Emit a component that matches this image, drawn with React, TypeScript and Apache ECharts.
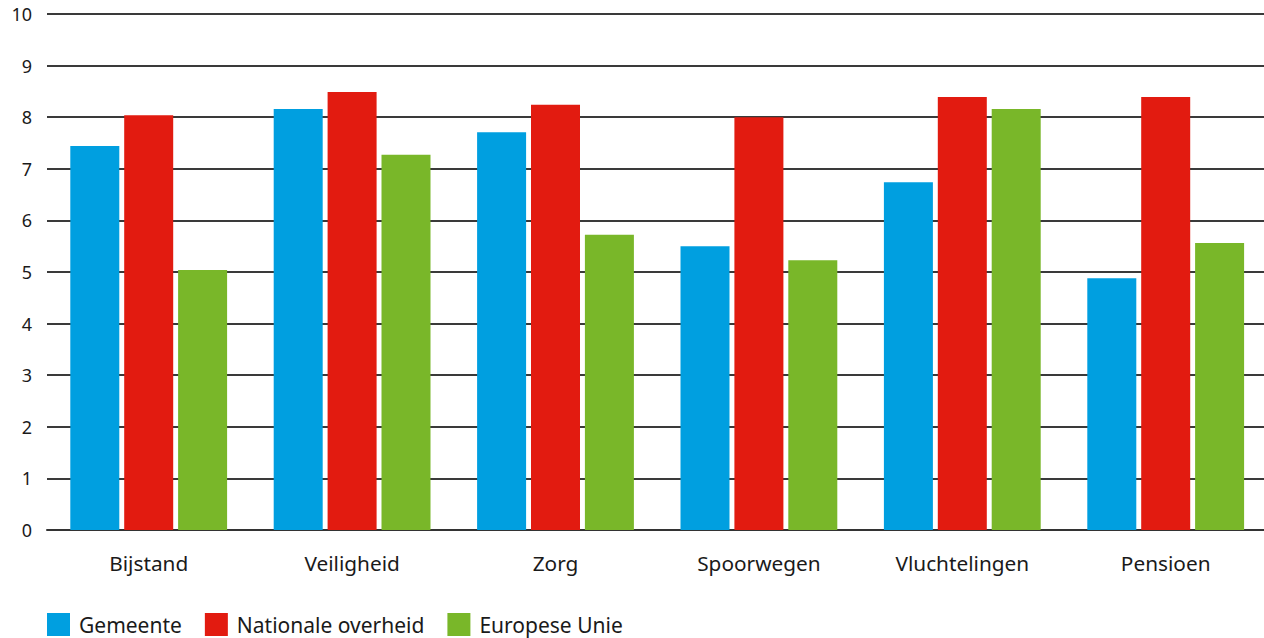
import React, { useEffect, useRef } from "react";
import * as echarts from "echarts";

const categories = ["Bijstand", "Veiligheid", "Zorg", "Spoorwegen", "Vluchtelingen", "Pensioen"];
const gemeente = [7.44, 8.16, 7.71, 5.5, 6.74, 4.88];
const nationaleOverheid = [8.04, 8.49, 8.24, 8.0, 8.39, 8.39];
const europeseUnie = [5.04, 7.27, 5.72, 5.23, 8.16, 5.56];
const seriesNames = ["Gemeente", "Nationale overheid", "Europese Unie"];
const colors = ["#009fe0", "#e21b10", "#79b729"];

export default function App() {
  const ref = useRef<HTMLDivElement>(null);
  useEffect(() => {
    const chart = echarts.init(ref.current!, null, { renderer: "svg" });
    const font = "'Noto Sans', 'Open Sans', sans-serif";
    const data = [gemeente, nationaleOverheid, europeseUnie];
    chart.setOption({
      animation: false,
      textStyle: { fontFamily: font },
      grid: { left: 47, right: 2.6, top: 14, bottom: 108 },
      legend: {
        left: 47,
        top: 613,
        padding: 0,
        itemWidth: 23,
        itemHeight: 23,
        itemGap: 23,
        icon: "rect",
        textStyle: { fontSize: 21, lineHeight: 23, color: "#1a1a1a", fontFamily: font, padding: [0, 0, 0, 4] },
        data: seriesNames,
      },
      xAxis: {
        type: "category",
        data: categories,
        axisLine: { show: true, lineStyle: { color: "#333", width: 2 } },
        axisTick: { show: false },
        axisLabel: { fontSize: 20.8, color: "#1a1a1a", margin: 22, fontFamily: font },
      },
      yAxis: {
        type: "value",
        min: 0,
        max: 10,
        interval: 1,
        axisLine: { show: false },
        axisTick: { show: false },
        splitLine: { lineStyle: { color: "#3a3a3a", width: 2 } },
        axisLabel: { fontSize: 18, color: "#1a1a1a", margin: 15, fontFamily: font },
      },
      series: seriesNames.map((name, i) => ({
        name,
        type: "bar",
        data: data[i],
        barWidth: 49,
        barGap: "10%",
        itemStyle: { color: colors[i] },
      })),
    });
    return () => chart.dispose();
  }, []);
  return (
    <div style={{ width: 1264, height: 638, position: "absolute", left: 0, top: 0, overflow: "hidden" }}>
      <div ref={ref} style={{ width: 1270, height: 638 }} />
    </div>
  );
}
